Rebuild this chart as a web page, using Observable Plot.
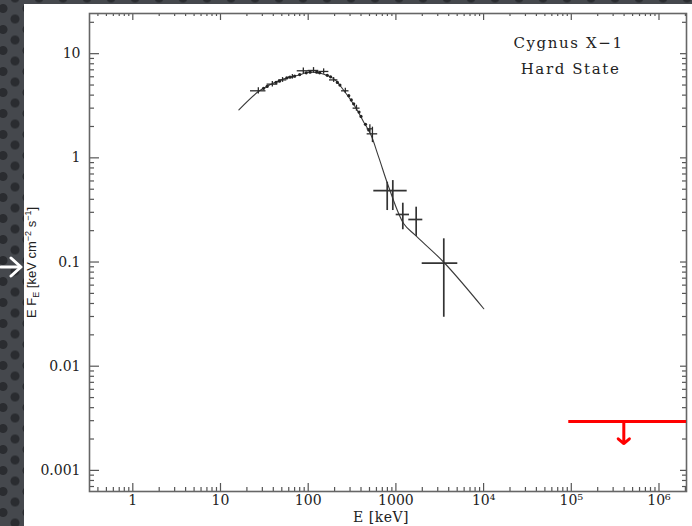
<!DOCTYPE html>
<html><head><meta charset="utf-8">
<script src="https://cdn.jsdelivr.net/npm/d3@7"></script>
<script src="https://cdn.jsdelivr.net/npm/@observablehq/plot@0.6"></script>
<style>
html,body{margin:0;padding:0;}
body{width:692px;height:526px;overflow:hidden;position:relative;
 background-color:#45484d;
 background-image: radial-gradient(circle at center, #2a2c30 0 4px, transparent 5px), radial-gradient(circle at center, #2a2c30 0 4px, transparent 5px);
 background-size: 24px 21px; background-position: -9px -2px, 3px 8.5px;}
#panel{position:absolute;left:24px;top:4px;width:668px;height:522px;background:#fff;}
#chart{position:absolute;left:0;top:0;}
#arrow{position:absolute;left:0;top:256px;}
</style></head>
<body>
<div id="panel"></div>
<div id="chart"></div>
<svg id="arrow" width="24" height="22"><g fill="none" stroke="#fff" stroke-width="3" stroke-linecap="round" stroke-linejoin="round"><line x1="1" y1="11" x2="20" y2="11"/><polyline points="11,2 21,11 11,20"/></g></svg>
<script>
// ---- tick values / labels ----
const xTickValues = [1, 10, 100, 1000, 1e4, 1e5, 1e6];
const xTickLabels = ["1", "10", "100", "1000", "10\u2074", "10\u2075", "10\u2076"];
const yTickValues = [0.001, 0.01, 0.1, 1, 10];
const yTickLabels = ["0.001", "0.01", "0.1", "1", "10"];

// ---- model curve ----
const modelE = [16.2, 27.3, 37.2, 52.7, 74.9, 101.6, 138, 196, 255, 346, 430, 513, 638, 830, 1230, 1672, 3516, 10050];
const modelF = [2.89, 4.36, 5.05, 5.73, 6.17, 6.63, 6.48, 5.73, 4.43, 3.06, 2.20, 1.70, 1.01, 0.522, 0.233, 0.180, 0.0995, 0.0356];

// ---- low-energy data points with error bars ----
const loE   = [27, 39, 51, 66, 88, 115, 150, 195, 265, 355, 505, 540];
const loF   = [4.4, 5.1, 5.6, 6.0, 6.85, 6.9, 6.75, 5.6, 4.4, 3.0, 1.9, 1.7];
const loElo = [22, 34, 46, 60, 75, 100, 132, 175, 240, 325, 470, 470];
const loEhi = [33, 45, 57, 73, 102, 132, 172, 218, 292, 390, 545, 620];
const loFlo = [4.1, 4.8, 5.3, 5.7, 6.4, 6.5, 6.35, 5.3, 4.15, 2.8, 1.72, 1.40];
const loFhi = [4.7, 5.4, 5.9, 6.3, 7.3, 7.35, 7.15, 5.9, 4.65, 3.2, 2.08, 1.97];

// ---- dense small data dots along the curve ----
const dotE = [31, 34, 43, 47, 57, 62, 70, 80, 95, 105, 125, 135, 165, 180, 215, 230, 290, 310, 330, 380, 400, 450, 490];
const dotF = [4.65, 4.85, 5.3, 5.45, 5.85, 5.95, 6.1, 6.3, 6.55, 6.65, 6.65, 6.55, 6.2, 6.0, 5.3, 5.0, 3.95, 3.6, 3.3, 2.75, 2.5, 2.1, 1.85];

// ---- high-energy (MeV) data points with error bars ----
const hiE   = [796, 922, 1199, 1703, 3516];
const hiF   = [0.485, 0.485, 0.286, 0.256, 0.0974];
const hiElo = [560, 905, 1008, 1403, 1995];
const hiEhi = [1345, 940, 1430, 2027, 5080];
const hiFlo = [0.312, 0.312, 0.204, 0.176, 0.0295];
const hiFhi = [0.583, 0.605, 0.367, 0.336, 0.167];

// ---- upper limit (red) ----
const limE1 = [9.36e4];
const limE2 = [2.06e6];
const limF = [0.00294];
const limArrowE = [3.97e5];
const limArrowF2 = [0.00181];

// ---- texts ----
const titleLines = ["Cygnus X\u22121", "Hard State"];
const titleE = [9.3e4, 9.8e4];
const titleF = [12.5, 7.03];
const xLabel = "E [keV]";
const yLabel = "E FE [keV cm-2 s-1]";

const xDomain = [0.3208, 2.059e6];
const yDomain = [6.27e-4, 24.3];

const W = 692, H = 526, mL = 89, mR = 6, mT = 13, mB = 35;
const plotH = H - mT - mB, plotW = W - mL - mR;

function minorTicks(lo, hi) {
  const out = [];
  for (let k = -4; k <= 7; k++) for (let m = 2; m <= 9; m++) {
    const v = m * Math.pow(10, k);
    if (v >= lo && v <= hi) out.push(v);
  }
  return out;
}
const xMinor = minorTicks(xDomain[0], xDomain[1]);
const yMinor = minorTicks(yDomain[0], yDomain[1]);

const model = modelE.map((e, i) => ({E: e, F: modelF[i]}));
const lo = loE.map((e, i) => ({E: e, F: loF[i], Elo: loElo[i], Ehi: loEhi[i], Flo: loFlo[i], Fhi: loFhi[i]}));
const hi = hiE.map((e, i) => ({E: e, F: hiF[i], Elo: hiElo[i], Ehi: hiEhi[i], Flo: hiFlo[i], Fhi: hiFhi[i]}));
const dots = dotE.map((e, i) => ({E: e, F: dotF[i]}));
const lim = limE1.map((e, i) => ({E1: e, E2: limE2[i], F: limF[i], A: limArrowE[i], F2: limArrowF2[i]}));
const titles = titleLines.map((t, i) => ({t, E: titleE[i], F: titleF[i]}));

const tickColor = "#555";
const chart = Plot.plot({
  width: W, height: H,
  marginLeft: mL, marginRight: mR, marginTop: mT, marginBottom: mB,
  style: {background: "transparent", fontFamily: "DejaVu Serif", fontSize: "14px", color: "#222", overflow: "visible"},
  x: {type: "log", domain: xDomain, axis: null},
  y: {type: "log", domain: yDomain, axis: null},
  marks: [
    // ticks bottom
    Plot.tickX(xMinor, {x: d => d, insetTop: plotH - 4, stroke: tickColor, strokeWidth: 1.2}),
    Plot.tickX(xTickValues, {x: d => d, insetTop: plotH - 8, stroke: tickColor, strokeWidth: 1.2}),
    // ticks top
    Plot.tickX(xMinor, {x: d => d, insetBottom: plotH - 3, stroke: tickColor, strokeWidth: 1.2}),
    Plot.tickX(xTickValues, {x: d => d, insetBottom: plotH - 7, stroke: tickColor, strokeWidth: 1.2}),
    // ticks left
    Plot.tickY(yMinor, {y: d => d, insetRight: plotW - 5, stroke: tickColor, strokeWidth: 1.2}),
    Plot.tickY(yTickValues, {y: d => d, insetRight: plotW - 10, stroke: tickColor, strokeWidth: 1.2}),
    // ticks right
    Plot.tickY(yMinor, {y: d => d, insetLeft: plotW - 4, stroke: tickColor, strokeWidth: 1.2}),
    Plot.tickY(yTickValues, {y: d => d, insetLeft: plotW - 6, stroke: tickColor, strokeWidth: 1.2}),
    Plot.axisX({ticks: xTickValues, tickSize: 0, tickPadding: 4, tickFormat: (d) => xTickLabels[xTickValues.indexOf(d)], label: null, fontSize: 14, fill: "#222"}),
    Plot.axisY({ticks: yTickValues, tickSize: 0, tickPadding: 9, tickFormat: (d) => yTickLabels[yTickValues.indexOf(d)], label: null, fontSize: 14, fill: "#222"}),
    Plot.frame({stroke: "#666", strokeWidth: 1.6}),
    // model
    Plot.line(model, {x: "E", y: "F", curve: "catmull-rom", stroke: "#3a3a3a", strokeWidth: 1.1}),
    Plot.dot(dots, {x: "E", y: "F", r: 1.6, fill: "#222"}),
    Plot.ruleX(lo, {x: "E", y1: "Flo", y2: "Fhi", stroke: "#2a2a2a", strokeWidth: 1.3}),
    Plot.ruleY(lo, {y: "F", x1: "Elo", x2: "Ehi", stroke: "#2a2a2a", strokeWidth: 1.3}),
    Plot.ruleX(hi, {x: "E", y1: "Flo", y2: "Fhi", stroke: "#333", strokeWidth: 1.7}),
    Plot.ruleY(hi, {y: "F", x1: "Elo", x2: "Ehi", stroke: "#333", strokeWidth: 1.7}),
    // upper limit
    Plot.ruleY(lim, {y: "F", x1: "E1", x2: "E2", stroke: "#f00", strokeWidth: 3}),
    Plot.arrow(lim, {x: "A", y1: "F", y2: "F2", stroke: "#f00", strokeWidth: 3, headAngle: 100, headLength: 10}),
    // annotation
    Plot.text(titles, {x: "E", y: "F", text: "t", fontSize: 15, fontFamily: "DejaVu Serif", fill: "#222"}),
    // axis labels
    Plot.text([xLabel], {frameAnchor: "bottom", textAnchor: "middle", lineAnchor: "middle", dx: -7, dy: 26, fontSize: 14, fontFamily: "DejaVu Serif", fill: "#222"}),
    Plot.text([yLabel], {frameAnchor: "left", textAnchor: "middle", lineAnchor: "middle", dx: -58, dy: 10, rotate: -90, fontSize: 13, fontFamily: "Liberation Sans", fill: "#222"})
  ]
});
document.getElementById("chart").appendChild(chart);

// style tweaks: letter-spacing for annotation, subscripts/superscripts on y label
chart.querySelectorAll("text").forEach(t => {
  if (titleLines.includes(t.textContent)) t.setAttribute("letter-spacing", "1.6");
  if (t.textContent === xLabel) t.setAttribute("letter-spacing", "0.5");
  if (t.textContent === yLabel) {
    const parts = [["E F", 0, null], ["E", 3, 9], [" [keV cm", -3, null], ["\u22122", -4.5, 9], [" s", 4.5, null], ["\u22121", -4.5, 9], ["]", 4.5, null]];
    while (t.firstChild) t.removeChild(t.firstChild);
    parts.forEach(([s, dy, fs]) => {
      const sp = document.createElementNS("http://www.w3.org/2000/svg", "tspan");
      sp.textContent = s;
      if (dy) sp.setAttribute("dy", dy);
      if (fs) sp.setAttribute("font-size", fs);
      t.appendChild(sp);
    });
  }
});
</script>
</body></html>
